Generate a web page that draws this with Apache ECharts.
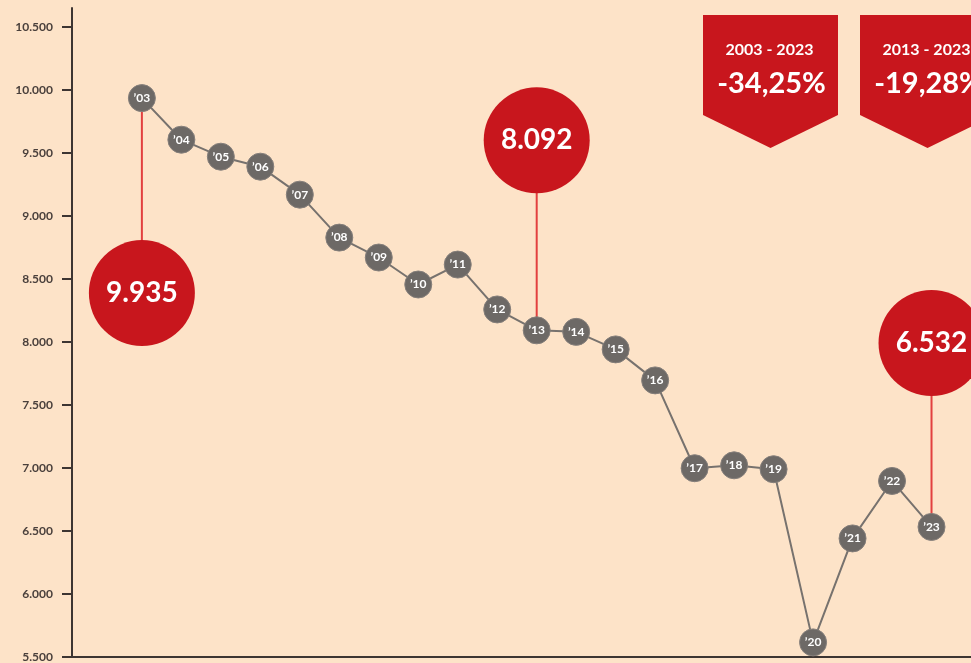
<!DOCTYPE html>
<html>
<head>
<meta charset="utf-8">
<script src="https://cdn.jsdelivr.net/npm/echarts@6/dist/echarts.min.js"></script>
<style>
  html, body { margin: 0; padding: 0; background: #fde3c8; }
  #chart { width: 971px; height: 663px; }
</style>
</head>
<body>
<div id="chart"></div>
<script>
// datos
var years = [2003, 2004, 2005, 2006, 2007, 2008, 2009, 2010, 2011, 2012, 2013,
             2014, 2015, 2016, 2017, 2018, 2019, 2020, 2021, 2022, 2023];
var yearLabels = ['’03', '’04', '’05', '’06', '’07', '’08', '’09', '’10', '’11', '’12', '’13',
                  '’14', '’15', '’16', '’17', '’18', '’19', '’20', '’21', '’22', '’23'];
var values = [9935, 9605, 9470, 9391, 9169, 8828, 8670, 8456, 8614, 8258, 8092,
              8080, 7941, 7695, 6998, 7021, 6990, 5616, 6441, 6897, 6532];
var yTicks = [5500, 6000, 6500, 7000, 7500, 8000, 8500, 9000, 9500, 10000, 10500];
var calloutYears = [2003, 2013, 2023];
var bannerRanges = ['2003 - 2023', '2013 - 2023'];
var bannerValues = ['-34,25%', '-19,28%'];

var RED = '#c8161d';
var DARK = '#3d3532';

function fmt(v) {
    return String(v).replace(/\B(?=(\d{3})+(?!\d))/g, '.');
}

var chart = echarts.init(document.getElementById('chart'));

var lineData = years.map(function (y, i) { return [y, values[i]]; });
var calloutData = calloutYears.map(function (y) { return [y, values[years.indexOf(y)]]; });
// desplazamiento vertical de cada burbuja respecto a su punto
var calloutShift = [195, -190, -184];

var graphics = [];
var bannerX = [703, 860];
bannerX.forEach(function (x0, i) {
    var w = 135;
    graphics.push({
        type: 'polygon',
        shape: { points: [[x0, 15], [x0 + w, 15], [x0 + w, 115], [x0 + w / 2, 148], [x0, 115]] },
        style: { fill: RED },
        z: 10
    });
    graphics.push({
        type: 'text',
        x: x0 + w / 2 - 1, y: 50,
        style: { text: bannerRanges[i], fill: '#fff', font: 'bold 16px Lato', align: 'center', verticalAlign: 'middle' },
        z: 11
    });
    graphics.push({
        type: 'text',
        x: x0 + w / 2 + 1, y: 84,
        style: { text: bannerValues[i], fill: '#fff', font: 'bold 29px Lato', align: 'center', verticalAlign: 'middle' },
        z: 11
    });
});

var option = {
    backgroundColor: '#fde3c8',
    animation: false,
    grid: { left: 72, right: 0, top: 8, bottom: 5 },
    xAxis: {
        type: 'value',
        min: 2001.23,
        max: 2024.0,
        axisLine: { show: true, lineStyle: { color: DARK, width: 2 } },
        axisTick: { show: false },
        axisLabel: { show: false },
        splitLine: { show: false }
    },
    yAxis: {
        type: 'value',
        min: 5500,
        max: 10650,
        axisLine: { show: true, lineStyle: { color: DARK, width: 2 } },
        axisTick: { show: true, length: 10, customValues: yTicks, lineStyle: { color: DARK, width: 2 } },
        axisLabel: {
            customValues: yTicks,
            margin: 19,
            color: '#4a403c',
            fontFamily: 'Lato',
            fontWeight: 'bold',
            fontSize: 12,
            formatter: function (v) { return fmt(v); }
        },
        splitLine: { show: false }
    },
    graphic: graphics,
    series: [
        {
            type: 'custom',
            z: 1,
            data: calloutData,
            renderItem: function (params, api) {
                var p = api.coord([api.value(0), api.value(1)]);
                var cy = p[1] + calloutShift[params.dataIndex];
                return {
                    type: 'group',
                    children: [
                        {
                            type: 'line',
                            shape: { x1: p[0], y1: p[1], x2: p[0], y2: cy },
                            style: { stroke: '#e2403f', lineWidth: 2 }
                        },
                        {
                            type: 'circle',
                            shape: { cx: p[0], cy: cy, r: 53 },
                            style: { fill: RED }
                        },
                        {
                            type: 'text',
                            x: p[0], y: cy,
                            style: {
                                text: fmt(api.value(1)),
                                fill: '#fff',
                                font: 'bold 28px Lato',
                                align: 'center',
                                verticalAlign: 'middle'
                            }
                        }
                    ]
                };
            }
        },
        {
            type: 'line',
            z: 3,
            data: lineData,
            symbol: 'circle',
            symbolSize: 27,
            lineStyle: { color: '#77726e', width: 2 },
            itemStyle: { color: '#6d6966', borderColor: '#857f7b', borderWidth: 1 },
            label: {
                show: true,
                position: 'inside',
                color: '#fff',
                fontFamily: 'Lato',
                fontWeight: 'bold',
                fontSize: 12,
                formatter: function (p) { return yearLabels[p.dataIndex]; }
            }
        }
    ]
};

chart.setOption(option);
</script>
</body>
</html>
